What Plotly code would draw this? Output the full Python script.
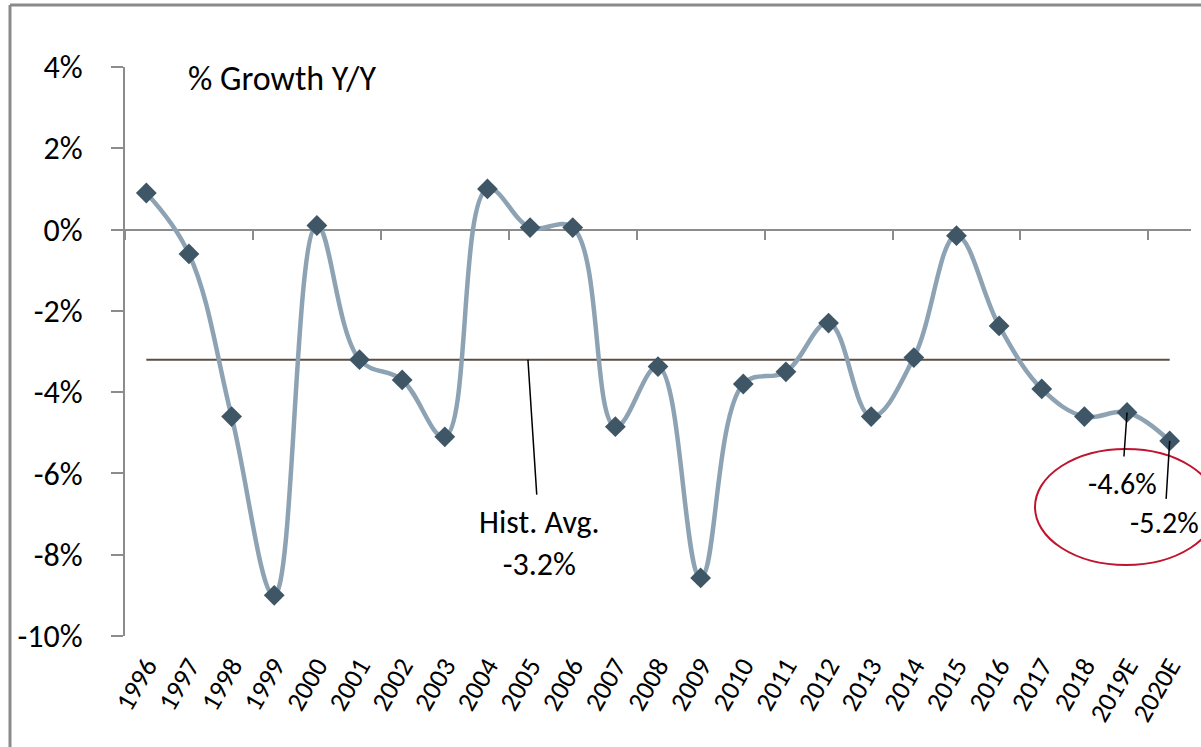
import plotly.graph_objects as go

years = ["1996", "1997", "1998", "1999", "2000", "2001", "2002", "2003", "2004",
         "2005", "2006", "2007", "2008", "2009", "2010", "2011", "2012", "2013",
         "2014", "2015", "2016", "2017", "2018", "2019E", "2020E"]
growth = [0.9, -0.6, -4.6, -9.0, 0.1, -3.2, -3.7, -5.1, 1.0,
          0.05, 0.05, -4.85, -3.37, -8.57, -3.8, -3.5, -2.3, -4.6,
          -3.15, -0.15, -2.37, -3.92, -4.6, -4.5, -5.2]
hist_avg = -3.2
y_ticks = [-10, -8, -6, -4, -2, 0, 2, 4]
y_ticktext = [f"{v}%" for v in y_ticks]
label_2019 = "-4.6%"
label_2020 = "-5.2%"

FONT = "Carlito, Calibri, Lato, sans-serif"
W, H = 1201, 747
ML, MR, MT, MB = 125, 10, 67, 111
PW, PH = W - ML - MR, H - MT - MB
ymin, ymax = -10, 4
idx = list(range(len(years)))


def px_x(px):
    return (px - ML) / PW


def px_y(py):
    return (H - MB - py) / PH


fig = go.Figure()

# historical average line
fig.add_trace(go.Scatter(x=idx, y=[hist_avg] * len(years), mode="lines",
                         line=dict(color="#5B4E43", width=2),
                         hoverinfo="skip", showlegend=False))
# growth series
fig.add_trace(go.Scatter(x=idx, y=growth, mode="lines+markers",
                         line=dict(color="#8DA3B4", width=4.5, shape="spline", smoothing=1.1),
                         marker=dict(symbol="diamond", size=16, color="#3E5666"),
                         showlegend=False))
# invisible trace for bottom category labels
fig.add_trace(go.Scatter(x=years, y=growth, xaxis="x2", mode="markers",
                         marker=dict(opacity=0), hoverinfo="skip", showlegend=False))

fig.update_layout(
    width=W, height=H, autosize=False,
    margin=dict(l=ML, r=MR, t=MT, b=MB, autoexpand=False),
    paper_bgcolor="white", plot_bgcolor="white",
    font=dict(family=FONT, color="black"),
    xaxis=dict(range=[-0.5, len(years) - 0.5], anchor="free",
               position=(0 - ymin) / (ymax - ymin),
               showline=True, linecolor="#8C8C8C", linewidth=2,
               ticks="outside", ticklen=9, tickwidth=2, tickcolor="#8C8C8C",
               tickvals=[i - 0.5 for i in range(0, len(years), 3)],
               showticklabels=False, showgrid=False, zeroline=False,
               layer="below traces", automargin=False),
    xaxis2=dict(overlaying="x", anchor="y", side="bottom", type="category",
                categoryorder="array", categoryarray=years,
                range=[-0.5, len(years) - 0.5], automargin=False,
                showline=False, ticks="", showgrid=False, zeroline=False,
                tickangle=-60, tickfont=dict(size=27, family=FONT),
                ticklabelstandoff=8),
    yaxis=dict(range=[ymin, ymax], tickvals=y_ticks, ticktext=y_ticktext,
               showline=True, linecolor="#8C8C8C", linewidth=2,
               ticks="outside", ticklen=12, tickwidth=2, tickcolor="#8C8C8C",
               showgrid=False, zeroline=False, automargin=False,
               tickfont=dict(size=32, family=FONT), ticklabelstandoff=22),
)

annotations = [
    dict(text="% Growth Y/Y", xref="paper", yref="paper",
         x=px_x(186), y=px_y(79), xanchor="left", yanchor="middle",
         showarrow=False, font=dict(size=34)),
    dict(text=f"Hist. Avg.<br>{hist_avg}%", x=8.95, y=hist_avg, xref="x", yref="y",
         showarrow=True, arrowhead=0, arrowwidth=1.5, arrowcolor="black",
         ax=12, ay=184, borderpad=8, font=dict(size=32)),
    dict(text=label_2019, x=23, y=growth[23], xref="x", yref="y",
         showarrow=True, arrowhead=0, arrowwidth=1.5, arrowcolor="black",
         ax=-5, ay=71, borderpad=8, font=dict(size=30)),
    dict(text=label_2020, x=24, y=growth[24], xref="x", yref="y",
         showarrow=True, arrowhead=0, arrowwidth=1.5, arrowcolor="black",
         ax=-5, ay=82, borderpad=5, font=dict(size=30)),
]
fig.update_layout(annotations=annotations)

shapes = [
    dict(type="circle", xref="paper", yref="paper",
         x0=px_x(1035), x1=px_x(1217), y0=px_y(565), y1=px_y(449),
         line=dict(color="#C0142E", width=2)),
    dict(type="line", xref="paper", yref="paper",
         x0=px_x(10), x1=px_x(1205), y0=px_y(5), y1=px_y(5),
         line=dict(color="#8A8A8A", width=3)),
    dict(type="line", xref="paper", yref="paper",
         x0=px_x(10), x1=px_x(10), y0=px_y(5), y1=px_y(750),
         line=dict(color="#8A8A8A", width=3)),
]
fig.update_layout(shapes=shapes)

fig.write_html("out.html", config={"displayModeBar": False},
               post_script="document.body.style.margin='0';document.body.style.overflow='hidden';")
